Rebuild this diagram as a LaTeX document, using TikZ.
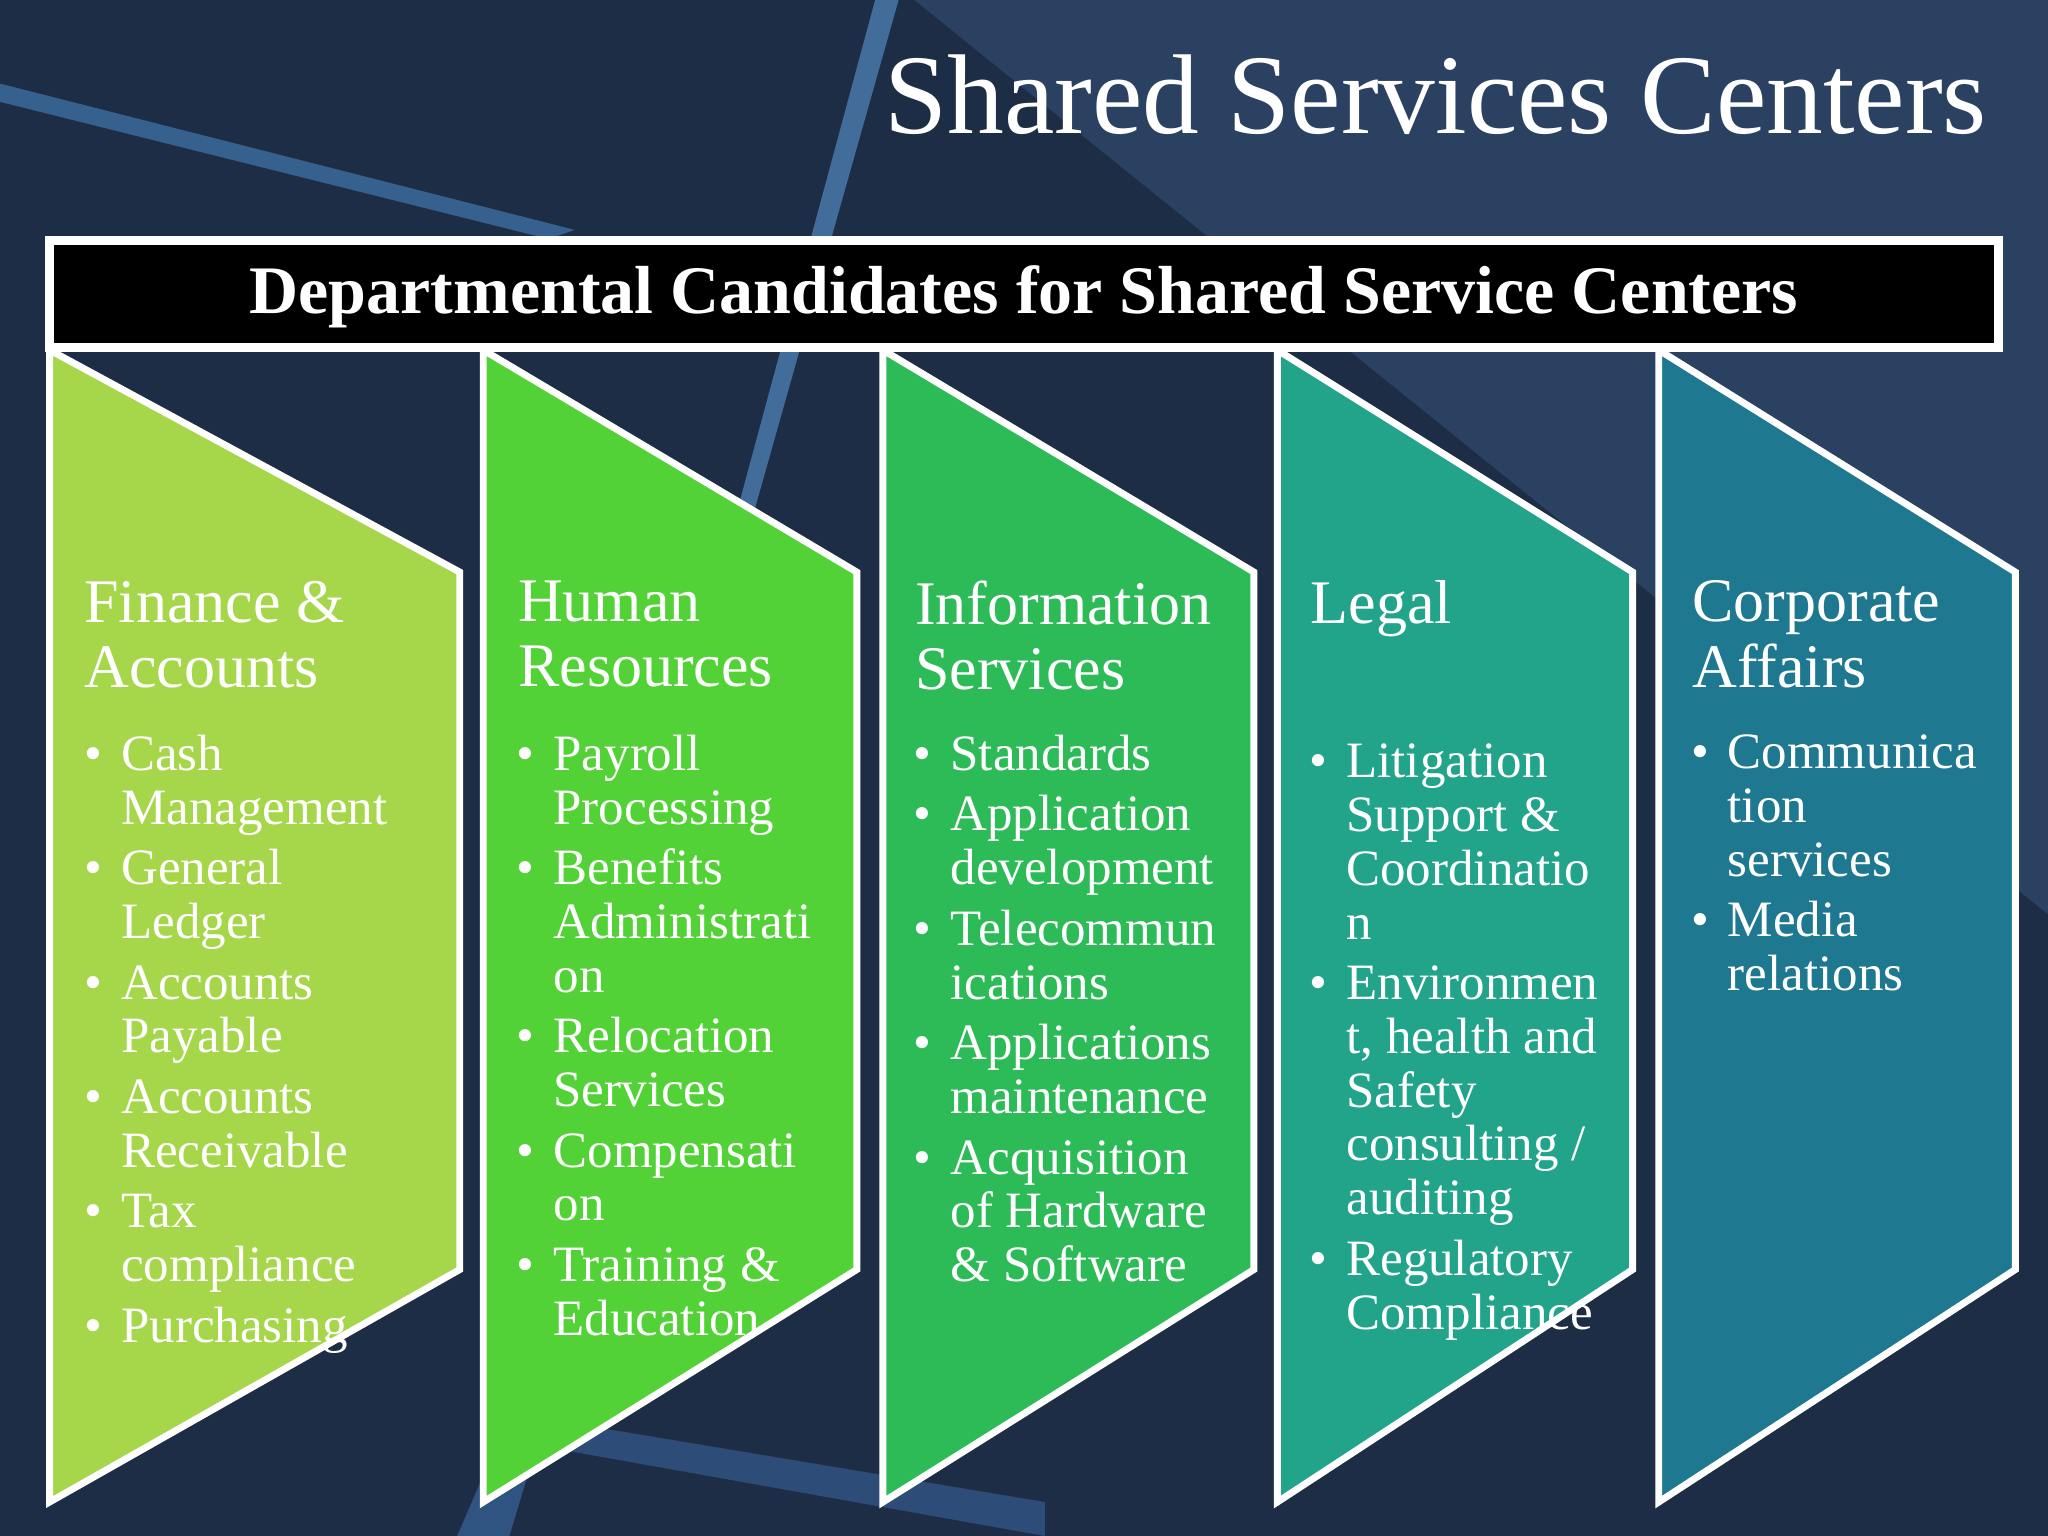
\documentclass[tikz,border=0pt]{standalone}
\usepackage{fontspec}
\setmainfont{Liberation Serif}
\begin{document}
\begin{tikzpicture}[x=0.01cm,y=-0.01cm,
  panel/.style={draw=white,line width=1.5pt},
  head/.style={anchor=north west,inner sep=0,align=left,text=white,font=\fontsize{13.5}{14.2}\selectfont},
  list/.style={anchor=north west,inner sep=0,align=left,text=white,font=\fontsize{11.1}{11.7}\selectfont}]
\newcommand{\itm}[1]{\makebox[8pt][l]{\textbullet}#1}
\newcommand{\cnt}[1]{\hspace*{8pt}#1}
\useasboundingbox (0,0) rectangle (1568,1176);
\fill[color={rgb,255:red,30;green,45;blue,70}] (0,0) rectangle (1568,1176);
\fill[color={rgb,255:red,45;green,70;blue,105},opacity=0.8] (700,0) -- (1568,0) -- (1568,700) -- cycle;
\fill[color={rgb,255:red,70;green,130;blue,190},opacity=0.6] (0,64) -- (0,78) -- (420,183) -- (440,176) -- cycle;
\fill[color={rgb,255:red,90;green,150;blue,210},opacity=0.6] (670,0) -- (688,0) -- (575,400) -- (562,400) -- cycle;
\fill[color={rgb,255:red,60;green,110;blue,170},opacity=0.6] (350,1176) -- (390,1176) -- (425,1060) -- (400,1060) -- cycle;
\fill[color={rgb,255:red,60;green,110;blue,170},opacity=0.5] (440,1090) -- (800,1150) -- (800,1176) -- (430,1110) -- cycle;
\node[anchor=base east,inner sep=0,text=white,font=\fontsize{24.7}{26}\selectfont] (title) at (1522,102) {Shared Services Centers};
\draw[white,line width=2pt,fill=black] (38,184) rectangle (1530,266);
\node[text=white,font=\bfseries\fontsize{14.8}{17}\selectfont,inner sep=0] (hdrt) at (784,227) {Departmental Candidates for Shared Service Centers};
\foreach \a/\b/\c [count=\i] in {38/352/{166,214,74},370/656/{82,210,54},676/960/{45,187,88},978/1250/{34,164,138},1270/1543/{29,120,144}}{
  \definecolor{pc}{RGB}{\c}
  \draw[panel,fill=pc] (\a,268) -- (\b,438) -- (\b,972) -- (\a,1150) -- cycle;
}
\node[head] (h1) at (64,444) {Finance \&\\Accounts};
\node[head] (h2) at (396,444) {Human\\Resources};
\node[head] (h3) at (700,444) {Information\\Services};
\node[head] (h4) at (1003,444) {Legal};
\node[head] (h5) at (1295,444) {Corporate\\Affairs};
\node[list] (l1) at (64,562) {\itm{Cash}\\\cnt{Management}\\[1.5pt]\itm{General}\\\cnt{Ledger}\\[1.5pt]\itm{Accounts}\\\cnt{Payable}\\[1.5pt]\itm{Accounts}\\\cnt{Receivable}\\[1.5pt]\itm{Tax}\\\cnt{compliance}\\[1.5pt]\itm{Purchasing}};
\node[list] (l2) at (395,562) {\itm{Payroll}\\\cnt{Processing}\\[1.5pt]\itm{Benefits}\\\cnt{Administrati}\\\cnt{on}\\[1.5pt]\itm{Relocation}\\\cnt{Services}\\[1.5pt]\itm{Compensati}\\\cnt{on}\\[1.5pt]\itm{Training \&}\\\cnt{Education}};
\node[list] (l3) at (699,562) {\itm{Standards}\\[1.5pt]\itm{Application}\\\cnt{development}\\[1.5pt]\itm{Telecommun}\\\cnt{ications}\\[1.5pt]\itm{Applications}\\\cnt{maintenance}\\[1.5pt]\itm{Acquisition}\\\cnt{of Hardware}\\\cnt{\& Software}};
\node[list] (l4) at (1002,569) {\itm{Litigation}\\\cnt{Support \&}\\\cnt{Coordinatio}\\\cnt{n}\\[1.5pt]\itm{Environmen}\\\cnt{t, health and}\\\cnt{Safety}\\\cnt{consulting /}\\\cnt{auditing}\\[1.5pt]\itm{Regulatory}\\\cnt{Compliance}};
\node[list] (l5) at (1294,562) {\itm{Communica}\\\cnt{tion}\\\cnt{services}\\[1.5pt]\itm{Media}\\\cnt{relations}};
\end{tikzpicture}
\end{document}
